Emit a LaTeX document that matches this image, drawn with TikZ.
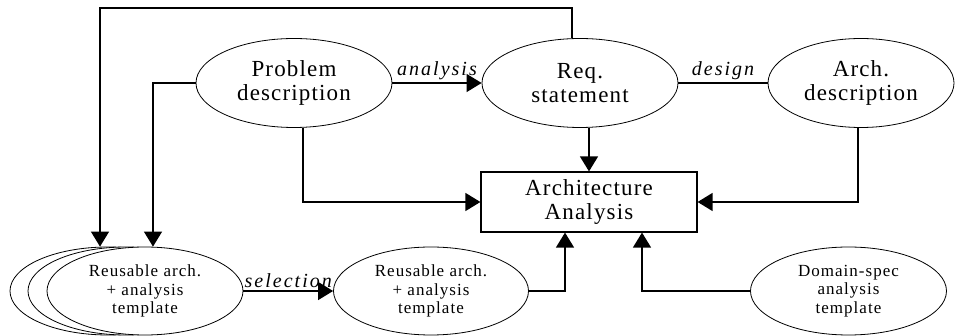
\documentclass[tikz,border=0pt]{standalone}
\usepackage{fontspec}
\setmainfont{Liberation Serif}
\newfontfamily\bigfont[LetterSpace=5]{Liberation Serif}
\newfontfamily\smallfont[LetterSpace=6]{Liberation Serif}
\newfontfamily\labelfont[LetterSpace=10]{Liberation Serif}
\usetikzlibrary{shapes.geometric,arrows.meta,calc}
\tikzset{
  x=1pt, y=1pt,
  blob/.style={ellipse, draw, line width=0.8pt, inner sep=0pt, align=center,
    font=\bigfont\fontsize{23}{24}\selectfont, minimum width=196pt, minimum height=89pt},
  tmpl/.style={ellipse, draw, fill=white, line width=0.8pt, inner sep=0pt, align=center,
    font=\smallfont\fontsize{17}{18.5}\selectfont, minimum width=196pt, minimum height=88pt},
  abox/.style={rectangle, draw, line width=1.2pt, align=center,
    font=\bigfont\fontsize{23}{24}\selectfont, minimum width=216pt, minimum height=60pt, inner sep=0pt},
  link/.style={line width=1.3pt},
  arr/.style={link, -{Triangle[length=15pt, width=18pt]}},
  lbl/.style={font=\labelfont\itshape\fontsize{20}{22}\selectfont, above, inner sep=3pt}
}
\begin{document}
\begin{tikzpicture}
\useasboundingbox (0,0) rectangle (956,-336);

% upper row: descriptions
\node[blob] (prob) at (294,-83) {Problem\\description};
\node[blob] (req) at (580,-83) {Req.\\statement};
\node[blob, minimum width=186pt] (arch) at (861,-83) {Arch.\\description};

% central analysis box
\node[abox] (aa) at (589,-202) {Architecture\\Analysis};

% stack of reusable templates
\node[tmpl] (back2) at (108,-291) {};
\node[tmpl] (back1) at (126,-291) {};
\node[tmpl] (reuse) at (145,-291) {Reusable arch.\\+ analysis\\template};
\node[tmpl, minimum width=195pt] (mid) at (431,-291) {Reusable arch.\\+ analysis\\template};
\node[tmpl] (dom) at (848.5,-291) {Domain-spec\\analysis\\template};

% feedback loop from the requirements back to the templates
\coordinate (loop) at (100,-8);
\draw[arr] ($(req.north)+(-8,0)$) |- (loop) -- (loop |- reuse.north);
\draw[arr] (prob.west) -| ([xshift=8pt]reuse.north);

% top row flow
\draw[arr] (prob.east) -- node[lbl] {analysis} (req.west);
\draw[link] (req.east) -- node[lbl] {design} (arch.west);

% inputs of the analysis
\draw[arr] (req.south -| aa.north) -- (aa.north);
\draw[arr] ([xshift=9pt]prob.south) |- (aa.west);
\draw[arr] ([xshift=-3pt]arch.south) |- (aa.east);
\draw[arr] (reuse.east) -- node[lbl] {selection} (mid.west);
\draw[arr] (mid.east) -| ([xshift=-24pt]aa.south);
\draw[arr] (dom.west) -| ([xshift=53pt]aa.south);
\end{tikzpicture}
\end{document}
